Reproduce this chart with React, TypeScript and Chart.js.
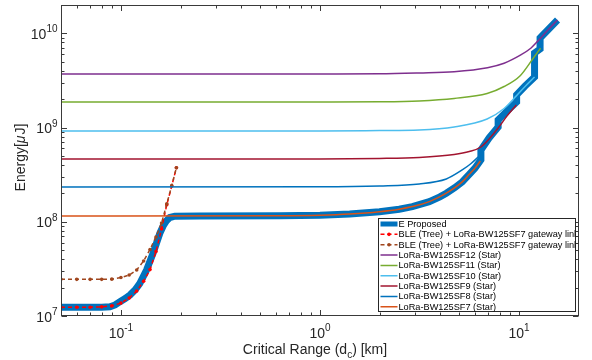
import React, { useEffect, useRef } from 'react';
import { Chart, registerables } from 'chart.js';

Chart.register(...registerables);

const FONT = '"Liberation Sans", Arial, Helvetica, sans-serif';
const AXIS_COLOR = '#262626';

// Axis limits and tick labels
const xLimits = [0.05, 20];
const yLimits = [1e7, 2e10];
const xMajorTicks = [0.1, 1, 10];
const xMajorExp = ['-1', '0', '1'];
const yMajorTicks = [1e7, 1e8, 1e9, 1e10];
const yMajorExp = ['7', '8', '9', '10'];
const xMinorDecades = [0.01, 0.1, 1, 10];
const yMinorDecades = [1e7, 1e8, 1e9, 1e10];

// E Proposed
const propD = [0.05, 0.08, 0.0881, 0.0935, 0.0989, 0.105, 0.111, 0.118, 0.1245, 0.1345, 0.145, 0.1568, 0.163, 0.1695, 0.176, 0.1866, 0.249, 0.627, 1.0, 1.41, 1.99, 2.5, 2.91, 3.54, 4.0, 4.31, 4.75, 5.18, 5.62, 6.0, 6.43, 6.43, 7.07, 7.85, 7.85, 8.71, 9.72, 9.72, 10.72, 11.96, 11.96, 12.75, 12.75, 15.6];
const propE = [1.237e7, 1.238e7, 1.25e7, 1.31e7, 1.418e7, 1.53e7, 1.671e7, 1.9e7, 2.22e7, 3.08e7, 4.63e7, 7.55e7, 9.03e7, 1.027e8, 1.11e8, 1.147e8, 1.155e8, 1.16e8, 1.175e8, 1.21e8, 1.28e8, 1.36e8, 1.45e8, 1.635e8, 1.84e8, 2.01e8, 2.3e8, 2.65e8, 3.19e8, 3.7e8, 4.55e8, 5.78e8, 7.76e8, 1.015e9, 1.204e9, 1.5e9, 1.87e9, 2.22e9, 2.76e9, 3.44e9, 6.19e9, 6.83e9, 8.93e9, 1.387e10];

// BLE (Tree) + LoRa-BW125SF7 gateway link
const bleD = [0.05, 0.06, 0.07, 0.08, 0.09, 0.1, 0.11, 0.12, 0.13, 0.14, 0.15, 0.16, 0.17, 0.18, 0.19];
const bleRedE = [1.24e7, 1.24e7, 1.24e7, 1.25e7, 1.28e7, 1.37e7, 1.55e7, 1.84e7, 2.34e7, 3.11e7, 4.84e7, 8.4e7, 1.52e8, 2.4e8, 3.75e8];
const bleBrownE = [2.45e7, 2.45e7, 2.45e7, 2.45e7, 2.46e7, 2.56e7, 2.72e7, 3.08e7, 3.84e7, 5.08e7, 6.9e7, 9.7e7, 1.55e8, 2.42e8, 3.75e8];

// LoRa star topologies
const sf12D = [0.05, 1.0, 1.99, 3.15, 4.72, 6.94, 8.41, 10.2, 11.45, 12.35, 13.81, 15.6];
const sf12E = [3.71e9, 3.71e9, 3.72e9, 3.8e9, 3.92e9, 4.32e9, 4.82e9, 5.9e9, 6.95e9, 8.17e9, 1.06e10, 1.387e10];
const sf11D = [0.05, 1.0, 1.99, 3.15, 4.72, 6.91, 8.41, 10.1, 11.9, 12.82];
const sf11E = [1.87e9, 1.87e9, 1.88e9, 1.92e9, 2.04e9, 2.3e9, 2.73e9, 3.53e9, 5.62e9, 6.95e9];
const sf10D = [0.05, 1.0, 1.99, 3.15, 4.72, 6.91, 8.41, 9.69, 10.72, 11.96];
const sf10E = [9.2e8, 9.2e8, 9.3e8, 9.43e8, 1.015e9, 1.234e9, 1.595e9, 2.17e9, 2.73e9, 3.44e9];
const sf9D = [0.05, 1.0, 1.99, 3.15, 4.72, 5.62, 6.43, 7.07, 7.85, 8.71, 9.69];
const sf9E = [4.64e8, 4.65e8, 4.7e8, 4.82e8, 5.18e8, 5.57e8, 6.22e8, 7.57e8, 9.9e8, 1.33e9, 1.74e9];
const sf8D = [0.05, 1.0, 1.99, 3.15, 4.31, 5.18, 5.74, 6.39];
const sf8E = [2.34e8, 2.35e8, 2.4e8, 2.52e8, 2.85e8, 3.55e8, 4.16e8, 5.12e8];
const sf7D = [0.05, 0.627, 1.0, 1.41, 1.99, 2.5, 2.91, 3.54, 4.31, 5.18, 5.62, 6.0, 6.39];
const sf7E = [1.152e8, 1.16e8, 1.175e8, 1.21e8, 1.28e8, 1.36e8, 1.45e8, 1.635e8, 2.01e8, 2.65e8, 3.19e8, 3.7e8, 4.42e8];

type Series = { label: string; d: number[]; e: number[]; color: string; width: number; dash: number[]; marker: boolean; smooth: boolean; box?: boolean };

const series: Series[] = [
  { label: 'E Proposed', d: propD, e: propE, color: '#0072BD', width: 7, dash: [], marker: false, smooth: false, box: true },
  { label: 'BLE (Tree) + LoRa-BW125SF7 gateway link', d: bleD, e: bleRedE, color: '#FF0000', width: 1.5, dash: [4, 3], marker: true, smooth: false },
  { label: 'BLE (Tree) + LoRa-BW125SF7 gateway link', d: bleD, e: bleBrownE, color: '#A0461E', width: 1.5, dash: [4, 3], marker: true, smooth: false },
  { label: 'LoRa-BW125SF12 (Star)', d: sf12D, e: sf12E, color: '#7E2F8E', width: 1.5, dash: [], marker: false, smooth: true },
  { label: 'LoRa-BW125SF11 (Star)', d: sf11D, e: sf11E, color: '#77AC30', width: 1.5, dash: [], marker: false, smooth: true },
  { label: 'LoRa-BW125SF10 (Star)', d: sf10D, e: sf10E, color: '#4DBEEE', width: 1.5, dash: [], marker: false, smooth: true },
  { label: 'LoRa-BW125SF9 (Star)', d: sf9D, e: sf9E, color: '#A2142F', width: 1.5, dash: [], marker: false, smooth: true },
  { label: 'LoRa-BW125SF8 (Star)', d: sf8D, e: sf8E, color: '#0072BD', width: 1.5, dash: [], marker: false, smooth: true },
  { label: 'LoRa-BW125SF7 (Star)', d: sf7D, e: sf7E, color: '#D95319', width: 1.5, dash: [], marker: false, smooth: true },
];

function drawPow(ctx: CanvasRenderingContext2D, exp: string, x: number, yBase: number, align: 'center' | 'right') {
  ctx.font = `14px ${FONT}`;
  const w1 = ctx.measureText('10').width;
  ctx.font = `10px ${FONT}`;
  const w2 = ctx.measureText(exp).width;
  const total = w1 + w2;
  const start = align === 'center' ? x - total / 2 : x - total;
  ctx.textAlign = 'left';
  ctx.textBaseline = 'alphabetic';
  ctx.font = `14px ${FONT}`;
  ctx.fillText('10', start, yBase);
  ctx.font = `10px ${FONT}`;
  ctx.fillText(exp, start + w1, yBase - 6.5);
}

const framePlugin = {
  id: 'frame',
  afterDraw(chart: any) {
    const ctx: CanvasRenderingContext2D = chart.ctx;
    const { left, right, top, bottom } = chart.chartArea;
    const xs = chart.scales.x;
    const ys = chart.scales.y;
    ctx.save();
    ctx.strokeStyle = '#3a3a3a';
    ctx.lineWidth = 1;
    const L = Math.round(left) + 0.5;
    const R = Math.round(right) - 0.5;
    const T = Math.round(top) + 0.5;
    const B = Math.round(bottom) - 0.5;
    ctx.strokeRect(L, T, R - L, B - T);

    const xt: [number, boolean][] = [];
    xMajorTicks.forEach((v) => xt.push([v, true]));
    xMinorDecades.forEach((dec) => { for (let k = 2; k <= 9; k++) { const v = k * dec; if (v > xLimits[0] * 1.0001 && v < xLimits[1] * 0.9999) xt.push([v, false]); } });
    const yt: [number, boolean][] = [];
    yMajorTicks.forEach((v) => yt.push([v, true]));
    yMinorDecades.forEach((dec) => { for (let k = 2; k <= 9; k++) { const v = k * dec; if (v > yLimits[0] * 1.0001 && v < yLimits[1] * 0.9999) yt.push([v, false]); } });

    ctx.beginPath();
    xt.forEach(([v, major]) => {
      const px = Math.round(xs.getPixelForValue(v)) + 0.5;
      const len = major ? 5.5 : 3;
      ctx.moveTo(px, B); ctx.lineTo(px, B - len);
      ctx.moveTo(px, T); ctx.lineTo(px, T + len);
    });
    yt.forEach(([v, major]) => {
      const py = Math.round(ys.getPixelForValue(v)) + 0.5;
      const len = major ? 5.5 : 3;
      ctx.moveTo(L, py); ctx.lineTo(L + len, py);
      ctx.moveTo(R, py); ctx.lineTo(R - len, py);
    });
    ctx.stroke();

    ctx.fillStyle = AXIS_COLOR;
    xMajorTicks.forEach((v, i) => drawPow(ctx, xMajorExp[i], xs.getPixelForValue(v), 337.5, 'center'));
    yMajorTicks.forEach((v, i) => drawPow(ctx, yMajorExp[i], 57.5, ys.getPixelForValue(v) + 5.5, 'right'));

    // x axis title
    ctx.font = `14px ${FONT}`;
    const p1 = 'Critical Range (d';
    const p3 = ') [km]';
    const w1 = ctx.measureText(p1).width;
    const w3 = ctx.measureText(p3).width;
    ctx.font = `10px ${FONT}`;
    const w2 = ctx.measureText('c').width;
    const tot = w1 + w2 + w3;
    const sx = 315 - tot / 2;
    ctx.font = `14px ${FONT}`;
    ctx.fillText(p1, sx, 354);
    ctx.font = `10px ${FONT}`;
    ctx.fillText('c', sx + w1, 357.5);
    ctx.font = `14px ${FONT}`;
    ctx.fillText(p3, sx + w1 + w2, 354);

    // y axis title
    ctx.save();
    ctx.translate(25, 157.5);
    ctx.rotate(-Math.PI / 2);
    ctx.font = `14px ${FONT}`;
    const a = 'Energy[';
    const c = 'J]';
    const wa = ctx.measureText(a).width;
    const wc = ctx.measureText(c).width;
    ctx.font = `italic 14px ${FONT}`;
    const wb = ctx.measureText('\u03BC').width + 1;
    const ty = wa + wb + wc;
    const st = -ty / 2;
    ctx.font = `14px ${FONT}`;
    ctx.fillText(a, st, 0);
    ctx.font = `italic 14px ${FONT}`;
    ctx.fillText('\u03BC', st + wa, 0);
    ctx.font = `14px ${FONT}`;
    ctx.fillText(c, st + wa + wb, 0);
    ctx.restore();
    ctx.restore();
  },
};

const legendPlugin = {
  id: 'customLegend',
  afterDraw(chart: any) {
    const ctx: CanvasRenderingContext2D = chart.ctx;
    const bx = 378.5, by = 218.5, bw = 197, bh = 93;
    ctx.save();
    ctx.fillStyle = '#ffffff';
    ctx.fillRect(bx, by, bw, bh);
    ctx.strokeStyle = AXIS_COLOR;
    ctx.lineWidth = 1;
    ctx.strokeRect(bx, by, bw, bh);
    ctx.beginPath();
    ctx.rect(bx, by, bw, bh);
    ctx.clip();
    series.forEach((s, i) => {
      const cy = 224 + i * 10.35;
      if (s.box) {
        ctx.fillStyle = s.color;
        ctx.fillRect(380.5, cy - 2.5, 17, 5);
      } else {
        ctx.strokeStyle = s.color;
        ctx.lineWidth = s.width;
        ctx.setLineDash(s.dash);
        ctx.beginPath();
        ctx.moveTo(380.5, cy);
        ctx.lineTo(397.5, cy);
        ctx.stroke();
        ctx.setLineDash([]);
        if (s.marker) {
          ctx.fillStyle = s.color;
          ctx.beginPath();
          ctx.arc(389, cy, 1.8, 0, Math.PI * 2);
          ctx.fill();
        }
      }
      ctx.fillStyle = '#000000';
      ctx.font = `9.2px ${FONT}`;
      ctx.textAlign = 'left';
      ctx.textBaseline = 'middle';
      ctx.fillText(s.label, 398.5, cy + 0.5);
    });
    ctx.restore();
  },
};

export default function App() {
  const ref = useRef<HTMLCanvasElement>(null);
  useEffect(() => {
    const canvas = ref.current;
    if (!canvas) return;
    const chart = new Chart(canvas, {
      type: 'line',
      data: {
        datasets: series.map((s, i) => ({
          label: s.label,
          data: s.d.map((d, j) => ({ x: d, y: s.e[j] })),
          borderColor: s.color,
          backgroundColor: s.color,
          borderWidth: s.width,
          borderDash: s.dash,
          pointRadius: s.marker ? 1.8 : 0,
          pointBorderWidth: 0,
          pointHoverRadius: 0,
          tension: 0,
          cubicInterpolationMode: s.smooth ? 'monotone' : 'default',
          fill: false,
          clip: 0,
          order: series.length - 1 - i,
          borderCapStyle: 'butt',
          borderJoinStyle: s.box ? 'miter' : 'round',
        })) as any,
      },
      options: {
        responsive: false,
        animation: false,
        events: [],
        layout: { padding: { left: 61, right: 13, top: 5, bottom: 44 } },
        scales: {
          x: { type: 'logarithmic', min: xLimits[0], max: xLimits[1], display: false },
          y: { type: 'logarithmic', min: yLimits[0], max: yLimits[1], display: false },
        },
        plugins: { legend: { display: false }, tooltip: { enabled: false } },
      },
      plugins: [framePlugin, legendPlugin],
    });
    return () => chart.destroy();
  }, []);
  return (
    <div style={{ position: 'fixed', left: 0, top: 0, width: 592, height: 360, background: '#ffffff' }}>
      <canvas ref={ref} width={592} height={360} style={{ display: 'block', width: 592, height: 360 }} />
    </div>
  );
}
